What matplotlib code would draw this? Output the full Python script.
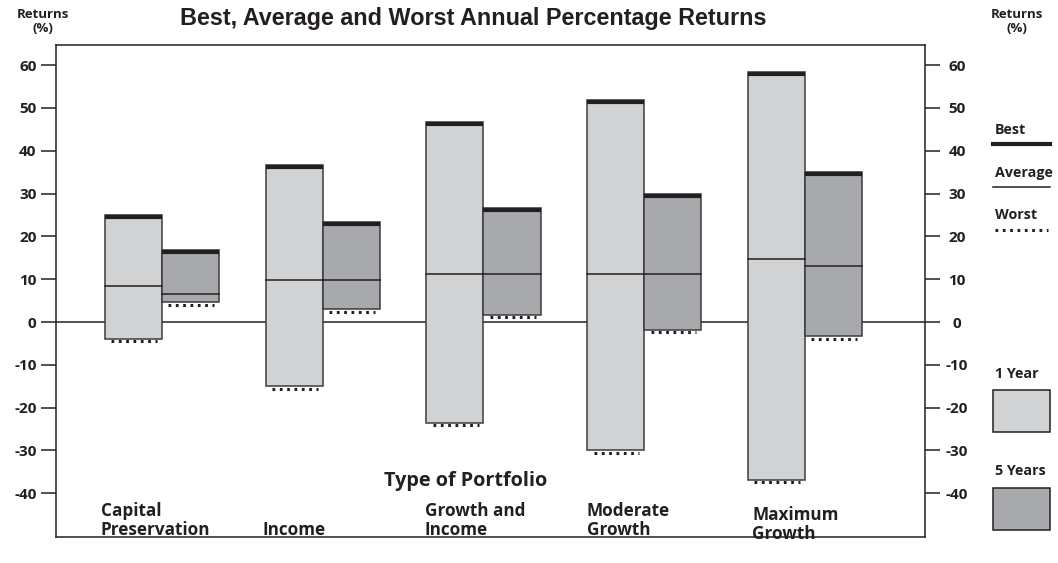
import numpy as np
import matplotlib
matplotlib.use('Agg')
import matplotlib.pyplot as plt
from matplotlib import transforms
from matplotlib.patches import Rectangle

plt.rcParams['font.family'] = ['Open Sans', 'DejaVu Sans']
plt.rcParams['font.weight'] = 'bold'

categories = ['Capital\nPreservation', 'Income', 'Growth and\nIncome', 'Moderate\nGrowth', 'Maximum\nGrowth']
best_1y = [25.0, 36.7, 46.6, 51.8, 58.3]
avg_1y = [8.3, 9.8, 11.3, 11.3, 14.7]
worst_1y = [-3.9, -15.0, -23.5, -30.0, -36.8]
best_5y = [16.8, 23.3, 26.7, 30.0, 35.0]
avg_5y = [6.5, 9.8, 11.3, 11.3, 13.0]
worst_5y = [4.6, 3.0, 1.7, -1.8, -3.3]
yticks = [60, 50, 40, 30, 20, 10, 0, -10, -20, -30, -40]

ink = '#231f20'
c1 = '#d1d2d4'
c5 = '#a7a9ac'
w = 0.355

fig = plt.figure(figsize=(10.58, 5.63), dpi=100)
ax = fig.add_axes([0.0529, 0.0462, 0.8214, 0.8739])
ax.set_xlim(-0.66, 4.747)
ax.set_ylim(-50.2, 64.7)

ax.axhline(0, color=ink, lw=1.1, zorder=1)

down2 = transforms.offset_copy(ax.transData, fig=fig, y=-2, units='dots')
down_dot = transforms.offset_copy(ax.transData, fig=fig, y=-2.5, units='dots')

for i in range(len(categories)):
    for x0, b, a, wo, col in [(i - w, best_1y[i], avg_1y[i], worst_1y[i], c1),
                              (i, best_5y[i], avg_5y[i], worst_5y[i], c5)]:
        ax.add_patch(Rectangle((x0, wo), w, b - wo, facecolor=col, edgecolor='#3c3c3c',
                               lw=1.1, zorder=2))
        ax.plot([x0, x0 + w], [b, b], color=ink, lw=3.0, solid_capstyle='butt',
                transform=down2, zorder=3)
        ax.plot([x0, x0 + w], [a, a], color=ink, lw=1.1, zorder=3)
        ax.plot([x0 + 0.04, x0 + w - 0.03], [wo, wo], color=ink, lw=2.2,
                linestyle=(0, (0.9, 1.5)), dash_capstyle='butt', transform=down_dot, zorder=3)

for s in ax.spines.values():
    s.set_color(ink)
    s.set_linewidth(1.1)

ax.set_xticks([])
ax.set_yticks(yticks)
ax.set_yticklabels([str(t) for t in yticks])
ax.tick_params(axis='y', direction='out', length=11, width=1.1, color=ink,
               labelsize=11, labelcolor=ink, pad=3)

ax2 = ax.twinx()
ax2.set_ylim(ax.get_ylim())
ax2.set_yticks(yticks)
ax2.set_yticklabels([str(t) for t in yticks])
ax2.tick_params(axis='y', direction='out', length=11, width=1.1, color=ink,
                labelsize=11, labelcolor=ink, pad=12)
for lab in ax2.get_yticklabels():
    lab.set_horizontalalignment('center')
for s in ax2.spines.values():
    s.set_visible(False)

# category labels
label_x = [101, 262, 425, 587, 752]
label_y = [539, 539, 539, 539, 543]
for lx, ly, cat in zip(label_x, label_y, categories):
    fig.text(lx / 1058, 1 - ly / 563, cat, ha='left', va='bottom', fontsize=12.3,
             color=ink, linespacing=1.05)

fig.text(466 / 1058, 1 - 481 / 563, 'Type of Portfolio', ha='center', va='center',
         fontsize=14.3, color=ink)

fig.text(473 / 1058, 1 - 19 / 563, 'Best, Average and Worst Annual Percentage Returns',
         ha='center', va='center', fontsize=16.8, color=ink, family='Liberation Sans')

for xr in [43, 1017]:
    fig.text(xr / 1058, 1 - 22 / 563, 'Returns\n(%)', ha='center', va='center',
             fontsize=9.5, color=ink, linespacing=1.1)

# legend
fig.text(995 / 1058, 1 - 130 / 563, 'Best', ha='left', va='center', fontsize=10.3, color=ink)
fig.add_artist(plt.Line2D([993 / 1058, 1050 / 1058], [1 - 144 / 563] * 2, color=ink, lw=3.0))
fig.text(995 / 1058, 1 - 173 / 563, 'Average', ha='left', va='center', fontsize=10.3, color=ink)
fig.add_artist(plt.Line2D([993 / 1058, 1050 / 1058], [1 - 187 / 563] * 2, color=ink, lw=1.1))
fig.text(995 / 1058, 1 - 215 / 563, 'Worst', ha='left', va='center', fontsize=10.3, color=ink)
fig.add_artist(plt.Line2D([995 / 1058, 1048 / 1058], [1 - 230 / 563] * 2, color=ink, lw=2.2,
                          linestyle=(0, (0.9, 1.5)), dash_capstyle='butt'))
fig.text(995 / 1058, 1 - 374 / 563, '1 Year', ha='left', va='center', fontsize=10.3, color=ink)
fig.add_artist(Rectangle((993 / 1058, 1 - 432 / 563), 57 / 1058, 42 / 563,
                         facecolor=c1, edgecolor=ink, lw=1.1, transform=fig.transFigure))
fig.text(995 / 1058, 1 - 471 / 563, '5 Years', ha='left', va='center', fontsize=10.3, color=ink)
fig.add_artist(Rectangle((993 / 1058, 1 - 530 / 563), 57 / 1058, 42 / 563,
                         facecolor=c5, edgecolor=ink, lw=1.1, transform=fig.transFigure))

fig.savefig('out.png', dpi=100)
